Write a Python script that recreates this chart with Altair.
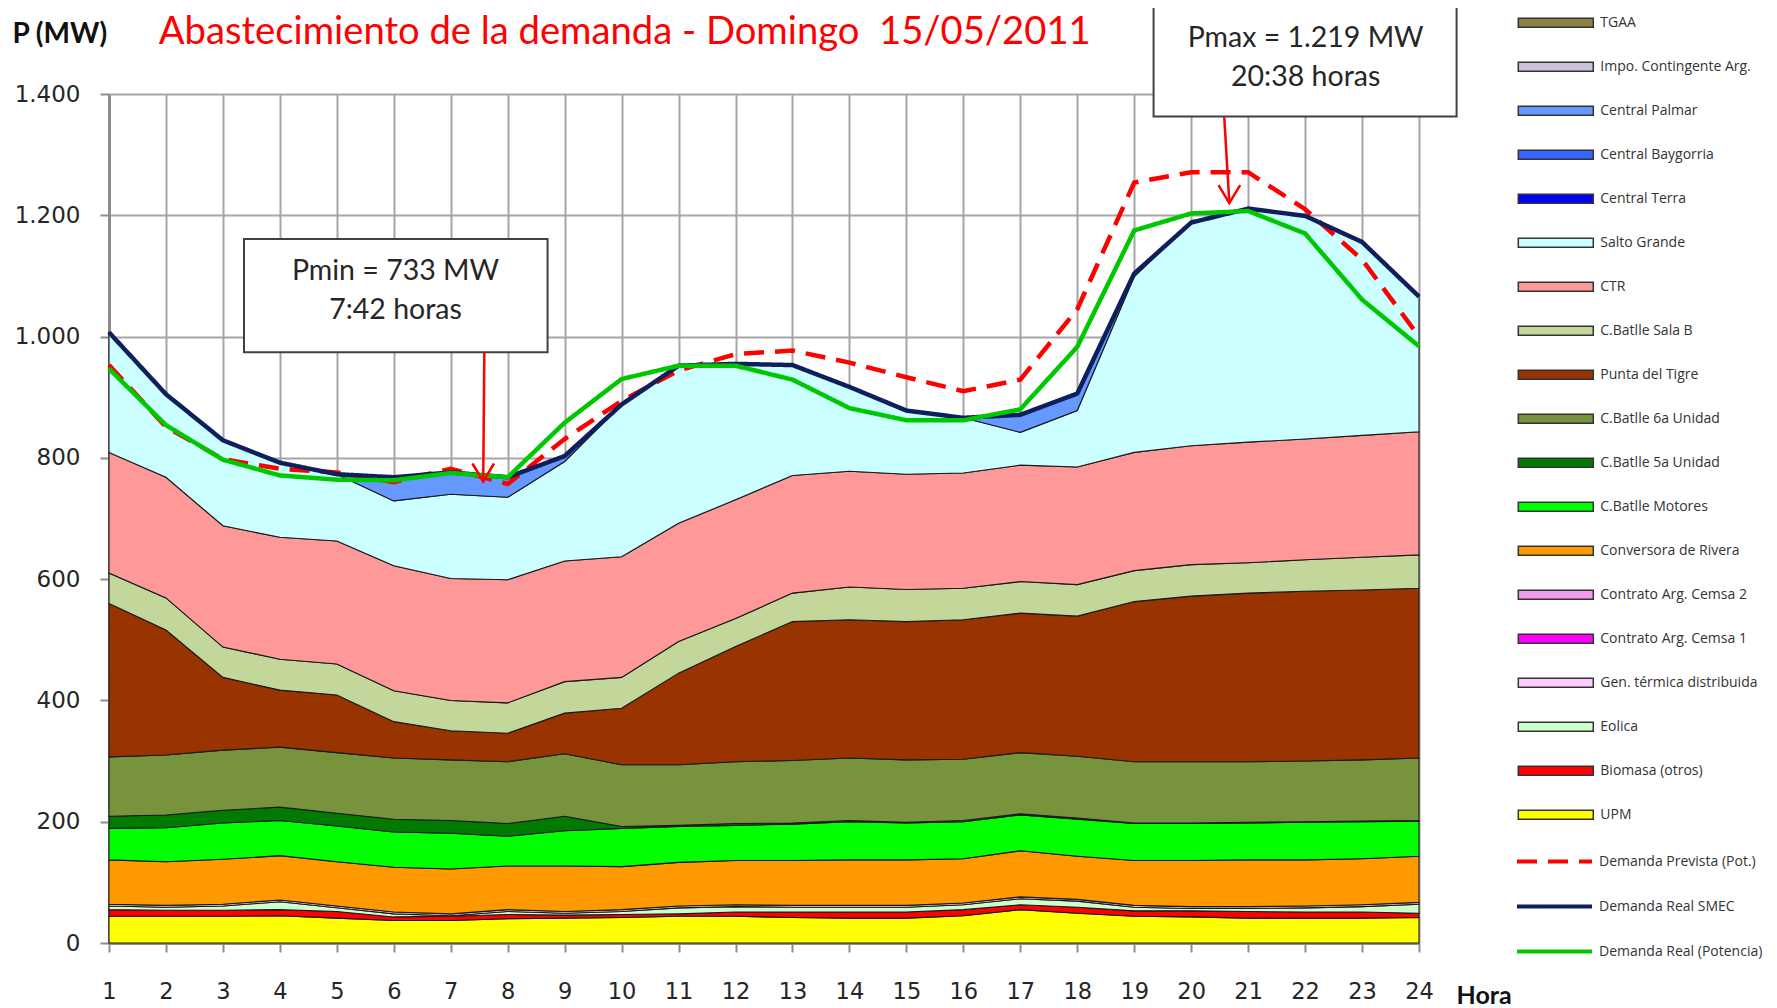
import altair as alt
import pandas as pd

# ---------------- data ----------------
horas = list(range(1, 25))

# legend order (top to bottom) for the stacked areas
nombres_areas = [
    "TGAA", "Impo. Contingente Arg.", "Central Palmar", "Central Baygorria", "Central Terra",
    "Salto Grande", "CTR", "C.Batlle Sala B", "Punta del Tigre", "C.Batlle 6a Unidad",
    "C.Batlle 5a Unidad", "C.Batlle Motores", "Conversora de Rivera", "Contrato Arg. Cemsa 2",
    "Contrato Arg. Cemsa 1", "Gen. térmica distribuida", "Eolica", "Biomasa (otros)", "UPM",
]
colores_areas = [
    "#8c7f47", "#ccc0da", "#6699ff", "#3366ff", "#0000ff",
    "#ccffff", "#ff9999", "#c4d79b", "#993300", "#77933c",
    "#007a00", "#00ff00", "#ff9900", "#f09cf0",
    "#ff00ff", "#ffccff", "#ccffcc", "#ff0000", "#ffff00",
]

UPM = [44, 44, 44, 45, 41, 37, 37, 40, 41, 42, 44, 44, 42, 41, 41, 45, 55, 49, 44, 43, 41, 41, 41, 42]
BIOMASA = [11, 10, 10, 10, 11, 6, 7, 7, 5, 5, 4, 7, 9, 10, 10, 10, 8, 10, 9, 10, 11, 10, 10, 7]
EOLICA = [6, 5, 7, 13, 6, 5, 1, 5, 3, 5, 10, 9, 8, 8, 8, 8, 10, 10, 6, 4, 5, 7, 9, 15]
GEN_TERMICA = [3, 3, 3, 3, 3, 3, 3, 3, 3, 3, 3, 3, 3, 3, 3, 3, 3, 3, 3, 3, 3, 3, 3, 3]
CEMSA_1 = [0, 0, 0, 0, 0, 0, 0, 0, 0, 0, 0, 0, 0, 0, 0, 0, 0, 0, 0, 0, 0, 0, 0, 0]
CEMSA_2 = [0, 0, 0, 0, 0, 0, 0, 0, 0, 0, 0, 0, 0, 0, 0, 0, 0, 0, 0, 0, 0, 0, 0, 0]
RIVERA = [73, 72, 74, 73, 73, 74, 74, 72, 75, 71, 72, 73, 74, 75, 75, 73, 76, 71, 74, 76, 77, 76, 76, 76]
MOTORES = [52, 56, 60, 58, 59, 58, 59, 49, 58, 63, 59, 58, 60, 63, 61, 61, 59, 61, 61, 61, 61, 62, 61, 58]
BATLLE_5A = [20, 21, 21, 22, 21, 21, 21, 21, 24, 3, 2, 3, 2, 2, 1, 2, 2, 2, 1, 1, 1, 1, 1, 1]
BATLLE_6A = [98, 99, 99, 99, 100, 101, 100, 102, 103, 102, 100, 102, 103, 103, 103, 101, 101, 102, 101, 101, 100, 100, 101, 103]
PUNTA_TIGRE = [253, 206, 120, 94, 95, 60, 48, 47, 67, 93, 151, 190, 229, 228, 228, 230, 230, 231, 264, 273, 278, 280, 280, 280]
SALA_B = [50, 53, 50, 51, 51, 51, 50, 50, 52, 51, 52, 46, 47, 54, 53, 52, 52, 52, 51, 52, 50, 52, 54, 55]
CTR = [199, 199, 200, 201, 203, 206, 201, 203, 199, 199, 195, 196, 194, 191, 190, 190, 192, 194, 195, 196, 199, 199, 201, 203]
SALTO_GRANDE = [198, 137, 141, 123, 110, 107, 139, 136, 164, 251, 260, 224, 182, 139, 105, 91, 54, 93, 290, 368, 385, 368, 319, 223]
TERRA = [0, 0, 0, 0, 0, 0, 0, 0, 0, 0, 0, 0, 0, 0, 0, 0, 0, 0, 0, 0, 0, 0, 0, 0]
BAYGORRIA = [0, 0, 0, 0, 0, 0, 0, 0, 0, 0, 0, 0, 0, 0, 0, 0, 0, 0, 0, 0, 0, 0, 0, 0]
PALMAR = [0, 0, 0, 0, 0, 39, 36, 33, 9, 0, 0, 0, 0, 0, 0, 0, 29, 28, 5, 0, 0, 0, 0, 0]
IMPO = [0, 0, 0, 0, 0, 0, 0, 0, 0, 0, 0, 0, 0, 0, 0, 0, 0, 0, 0, 0, 0, 0, 0, 0]
TGAA = [0, 0, 0, 0, 0, 0, 0, 0, 0, 0, 0, 0, 0, 0, 0, 0, 0, 0, 0, 0, 0, 0, 0, 0]

# stacking order, bottom first
pila = [
    ("UPM", UPM), ("Biomasa (otros)", BIOMASA), ("Eolica", EOLICA),
    ("Gen. térmica distribuida", GEN_TERMICA), ("Contrato Arg. Cemsa 1", CEMSA_1),
    ("Contrato Arg. Cemsa 2", CEMSA_2), ("Conversora de Rivera", RIVERA),
    ("C.Batlle Motores", MOTORES), ("C.Batlle 5a Unidad", BATLLE_5A),
    ("C.Batlle 6a Unidad", BATLLE_6A), ("Punta del Tigre", PUNTA_TIGRE),
    ("C.Batlle Sala B", SALA_B), ("CTR", CTR), ("Salto Grande", SALTO_GRANDE),
    ("Central Terra", TERRA), ("Central Baygorria", BAYGORRIA), ("Central Palmar", PALMAR),
    ("Impo. Contingente Arg.", IMPO), ("TGAA", TGAA),
]

nombres_lineas = ["Demanda Prevista (Pot.)", "Demanda Real SMEC", "Demanda Real (Potencia)"]
colores_lineas = ["#ff0000", "#0f1f5c", "#00c800"]
PREVISTA = [953, 851, 798, 782, 776, 760, 782, 757, 831, 894, 944, 971, 977, 957, 933, 910, 929, 1045, 1254, 1271, 1271, 1210, 1127, 1000]
SMEC = [1007, 905, 829, 792, 773, 768, 776, 768, 803, 888, 952, 955, 953, 917, 878, 866, 871, 906, 1104, 1188, 1211, 1199, 1156, 1066]
POTENCIA = [947, 854, 797, 771, 764, 763, 775, 768, 858, 930, 952, 952, 929, 882, 862, 862, 880, 983, 1175, 1203, 1207, 1170, 1061, 984]

# title (hour / MW coordinates)
titulo = ["Abastecimiento de la demanda - Domingo\u00a0 15/05/2011"]
titulo_x = [1.875]
titulo_y = [1483]

# annotation boxes (hour / MW coordinates)
caja_x1 = [3.37, 19.34]
caja_x2 = [8.70, 24.66]
caja_y1 = [974, 1363]
caja_y2 = [1161, 1546]
textos = ["Pmin = 733 MW", "7:42 horas", "Pmax = 1.219 MW", "20:38 horas"]
texto_x = [6.03, 6.03, 22.01, 22.01]
texto_y = [1108, 1043, 1493, 1428]
flecha_x1 = [7.59, 20.58]
flecha_y1 = [974, 1363]
flecha_x2 = [7.57, 20.67]
flecha_y2 = [761, 1220]

# ---------------- tables ----------------
filas = []
for orden, (nombre, valores) in enumerate(pila):
    if not any(valores):
        continue
    for h, v in zip(horas, valores):
        filas.append({"hora": h, "serie": nombre, "mw": v, "orden": orden})
df_areas = pd.DataFrame(filas)

filas_l = []
for nombre, valores in zip(nombres_lineas, [PREVISTA, SMEC, POTENCIA]):
    for h, v in zip(horas, valores):
        filas_l.append({"hora": h, "linea": nombre, "mw": v})
df_lineas = pd.DataFrame(filas_l)

df_titulo = pd.DataFrame({"t": titulo, "x": titulo_x, "y": titulo_y})
df_cajas = pd.DataFrame({"x1": caja_x1, "x2": caja_x2, "y1": caja_y1, "y2": caja_y2})
df_textos = pd.DataFrame({"t": textos, "x": texto_x, "y": texto_y})
df_flechas = pd.DataFrame({"x1": flecha_x1, "y1": flecha_y1, "x2": flecha_x2, "y2": flecha_y2})

# ---------------- scales / axes ----------------
x_scale = alt.Scale(domain=[1, 24], nice=False, zero=False)
y_scale = alt.Scale(domain=[0, 1400], nice=False)

x_axis = alt.Axis(
    values=horas, format="d", labelOverlap=False, title="Hora", grid=True,
    gridColor="#a6a6a6", gridWidth=2,
    domainColor="#8c8c8c", domainWidth=3, tickColor="#8c8c8c", tickWidth=2, tickSize=9,
    labelFont="DejaVu Sans", labelFontSize=22.5, labelColor="#262626", labelPadding=28,
    labelFlush=False,
    titleFont="Lato", titleFontWeight="bold", titleFontSize=25, titleColor="#111111",
    titleAnchor="start", titleAlign="left", titleBaseline="middle", titleX=1347, titleY=52,
)
y_axis = alt.Axis(
    values=[0, 200, 400, 600, 800, 1000, 1200, 1400], title="P (MW)", grid=True,
    labelOverlap=False,
    gridColor="#a6a6a6", gridWidth=2, domainColor="#8c8c8c", domainWidth=3,
    tickColor="#8c8c8c", tickWidth=2, tickSize=9,
    labelFont="DejaVu Sans", labelFontSize=23, labelColor="#262626", labelPadding=20,
    labelExpr="replace(format(datum.value, ','), ',', '.')",
    titleFont="Lato", titleFontWeight="bold", titleFontSize=28, titleColor="#111111",
    titleAngle=0, titleAlign="left", titleBaseline="middle", titleX=-97, titleY=-60,
)

areas = alt.Chart(df_areas).mark_area(
    interpolate="linear", stroke="#1a1a1a", strokeWidth=1.1, opacity=1
).encode(
    x=alt.X("hora:Q", scale=x_scale, axis=x_axis),
    y=alt.Y("mw:Q", stack="zero", scale=y_scale, axis=y_axis),
    color=alt.Color(
        "serie:N",
        scale=alt.Scale(domain=nombres_areas, range=colores_areas),
        legend=alt.Legend(
            orient="none", legendX=1410.3, legendY=-107.8, title=None, padding=0,
            symbolType="M-1.06,-0.127H1.06V0.127H-1.06Z", symbolSize=5004,
            symbolStrokeColor="#333333", symbolStrokeWidth=1.5, symbolOpacity=1,
            labelFont="Open Sans", labelFontSize=14, labelFontWeight="normal",
            labelColor="#333333", labelOffset=8, rowPadding=0, labelLimit=300,
        ),
    ),
    order=alt.Order("orden:Q", sort="ascending"),
)

leyenda_lineas = alt.Legend(
    orient="none", legendX=1409, legendY=731, title=None, padding=0,
    symbolType="M-1.096,0H1.096", symbolSize=4679, symbolStrokeWidth=4,
    labelFont="Open Sans", labelFontSize=14, labelFontWeight="normal", labelColor="#333333",
    labelOffset=8, rowPadding=0, labelLimit=300,
)

lineas = alt.Chart(df_lineas).mark_line(strokeWidth=4.5, interpolate="linear").encode(
    x=alt.X("hora:Q", scale=x_scale),
    y=alt.Y("mw:Q", scale=y_scale),
    stroke=alt.Stroke("linea:N", scale=alt.Scale(domain=nombres_lineas, range=colores_lineas),
                      legend=leyenda_lineas),
    strokeDash=alt.StrokeDash("linea:N", scale=alt.Scale(domain=nombres_lineas,
                              range=[[20, 11], [1, 0], [1, 0]]), legend=leyenda_lineas),
    order=alt.Order("orden_l:Q"),
).transform_calculate(
    orden_l="datum.linea == 'Demanda Real SMEC' ? 0 : (datum.linea == 'Demanda Prevista (Pot.)' ? 1 : 2)"
)

titulo_ch = alt.Chart(df_titulo).mark_text(
    font="Lato", fontSize=38.2, color="#ff0000", align="left", baseline="alphabetic"
).encode(
    x=alt.X("x:Q", scale=x_scale), y=alt.Y("y:Q", scale=y_scale), text="t:N"
)
cajas = alt.Chart(df_cajas).mark_rect(fill="white", stroke="#404040", strokeWidth=2).encode(
    x=alt.X("x1:Q", scale=x_scale), x2="x2:Q",
    y=alt.Y("y1:Q", scale=y_scale), y2="y2:Q",
)
textos_ch = alt.Chart(df_textos).mark_text(
    font="Lato", fontSize=28.5, color="#262626", align="center", baseline="middle"
).encode(
    x=alt.X("x:Q", scale=x_scale), y=alt.Y("y:Q", scale=y_scale), text="t:N"
)
flechas = alt.Chart(df_flechas).mark_rule(color="#ff0000", strokeWidth=2.5).encode(
    x=alt.X("x1:Q", scale=x_scale), x2="x2:Q",
    y=alt.Y("y1:Q", scale=y_scale), y2="y2:Q",
)
puntas = alt.Chart(df_flechas).mark_point(
    shape="M-0.6,-1L0,0L0.6,-1", size=1296, filled=False, stroke="#ff0000",
    strokeWidth=2.5, opacity=1
).encode(
    x=alt.X("x2:Q", scale=x_scale), y=alt.Y("y2:Q", scale=y_scale)
)

chart = alt.layer(areas, lineas, titulo_ch, cajas, textos_ch, flechas, puntas).properties(
    width=1310, height=849,
    autosize=alt.AutoSizeParams(type="none"),
    padding={"left": 101, "top": 86, "right": 350, "bottom": 64},
).configure_view(stroke=None).configure(background="white")

chart.save("out.html", embed_options={"renderer": "svg", "actions": False})
